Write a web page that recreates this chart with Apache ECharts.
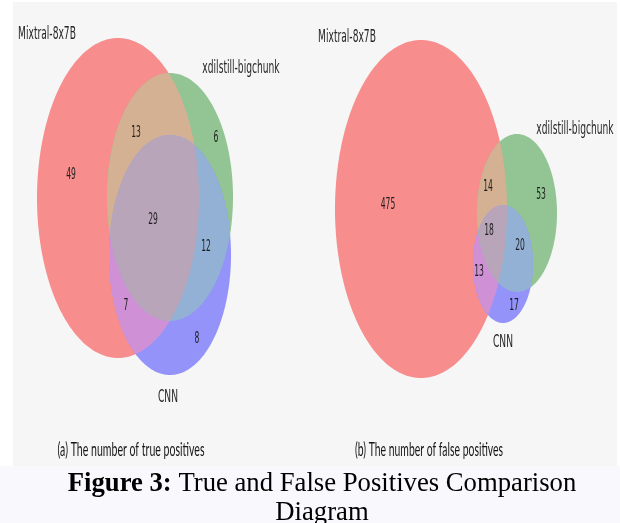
<!DOCTYPE html>
<html><head><meta charset="utf-8">
<script src="https://cdn.jsdelivr.net/npm/echarts@6/dist/echarts.min.js"></script>
<style>html,body{margin:0;padding:0;background:#fff}#c{width:620px;height:523px}</style>
</head><body><div id="c"></div>
<script>
// ---------------- data ----------------
const setNames = ['Mixtral-8x7B', 'xdilstill-bigchunk', 'CNN'];
// regions: A only, B only, C only, A&B, A&C, B&C, A&B&C
const regionKeys = ['100', '010', '001', '110', '101', '011', '111'];
const truePositives = [49, 6, 8, 13, 7, 12, 29];
const falsePositives = [475, 53, 17, 14, 13, 20, 18];
const panelTitles = ['(a) The number of true positives', '(b) The number of false positives'];
const captionBold = 'Figure 3:';
const captionRest = ' True and False Positives Comparison';
const captionLine2 = 'Diagram';

// ---------------- layout (geometry in layout space) ----------------
// ellipses [cx, cy, rx, ry] for sets A, B, C
const geomTP = [[118, 198, 81, 160], [170, 197, 63, 124], [170, 255, 61, 120]];
const geomFP = [[421, 209, 86, 169], [517, 213, 40, 79], [503, 264, 30, 59]];
const countPosTP = [[71, 175], [216, 138], [197, 339], [136, 133], [126, 306], [206, 247], [153, 220]];
const countPosFP = [[388, 205], [541, 195], [514, 306], [488, 187], [479, 272], [520, 246], [489, 231]];
const namePosTP = [[47, 34], [241, 68], [168, 397]];
const namePosFP = [[347, 37], [575, 129], [503, 342]];
const titlePos = [[131, 450], [429, 450]];

// ---------------- styles ----------------
const regionColors = ['#f78d8d', '#93c493', '#9393fa', '#d5b193', '#cf90d6', '#92b1d4', '#b8a5b9'];
const SX = 0.507; // horizontal squeeze of the original figure

function ellipsePts(api, e, n) {
  const pts = [];
  for (let i = 0; i < n; i++) {
    const t = 2 * Math.PI * i / n;
    pts.push(api.coord([e[0] + e[2] * Math.cos(t), e[1] + e[3] * Math.sin(t)]));
  }
  return pts;
}
function signedArea(p) {
  let a = 0;
  for (let i = 0; i < p.length; i++) {
    const q = p[i], r = p[(i + 1) % p.length];
    a += q[0] * r[1] - r[0] * q[1];
  }
  return a / 2;
}
function clipPoly(subject, clip) {
  const sg = signedArea(clip) > 0 ? 1 : -1;
  let out = subject;
  for (let i = 0; i < clip.length; i++) {
    const a = clip[i], b = clip[(i + 1) % clip.length];
    const inside = p => sg * ((b[0] - a[0]) * (p[1] - a[1]) - (b[1] - a[1]) * (p[0] - a[0])) >= 0;
    const inter = (s, p) => {
      const dx1 = p[0] - s[0], dy1 = p[1] - s[1], dx2 = b[0] - a[0], dy2 = b[1] - a[1];
      const den = dx1 * dy2 - dy1 * dx2;
      const t = ((a[0] - s[0]) * dy2 - (a[1] - s[1]) * dx2) / den;
      return [s[0] + t * dx1, s[1] + t * dy1];
    };
    const inp = out; out = [];
    if (!inp.length) break;
    for (let j = 0; j < inp.length; j++) {
      const P = inp[j], S = inp[(j - 1 + inp.length) % inp.length];
      if (inside(P)) { if (!inside(S)) out.push(inter(S, P)); out.push(P); }
      else if (inside(S)) out.push(inter(S, P));
    }
  }
  return out;
}

function shapeSeries(geom) {
  return {
    type: 'custom', coordinateSystem: 'cartesian2d', silent: true, clip: false, z: 2,
    data: regionKeys.map((k, i) => [i, 0]),
    renderItem: function (params, api) {
      const i = api.value(0);
      const sets = regionKeys[i].split('').map((c, j) => c === '1' ? j : -1).filter(j => j >= 0);
      let poly = ellipsePts(api, geom[sets[0]], 240);
      for (let k = 1; k < sets.length; k++) poly = clipPoly(poly, ellipsePts(api, geom[sets[k]], 240));
      return { type: 'polygon', shape: { points: poly }, style: { fill: regionColors[i] } };
    }
  };
}
function countSeries(pos, counts) {
  return {
    type: 'custom', coordinateSystem: 'cartesian2d', silent: true, clip: false, z: 5,
    data: counts.map((v, i) => [pos[i][0], pos[i][1], v]),
    renderItem: function (params, api) {
      const p = api.coord([api.value(0), api.value(1)]);
      return { type: 'text', x: p[0], y: p[1], scaleX: SX,
        style: { text: String(api.value(2)), font: '15px "DejaVu Sans"', fill: '#1e1e1e',
                 align: 'center', verticalAlign: 'middle' } };
    }
  };
}
function nameSeries(pos) {
  return {
    type: 'custom', coordinateSystem: 'cartesian2d', silent: true, clip: false, z: 5,
    data: setNames.map((n, i) => [pos[i][0], pos[i][1], i]),
    renderItem: function (params, api) {
      const p = api.coord([api.value(0), api.value(1)]);
      return { type: 'text', x: p[0], y: p[1], scaleX: SX,
        style: { text: setNames[api.value(2)], font: '18px "DejaVu Sans"', fill: '#262626',
                 align: 'center', verticalAlign: 'middle' } };
    }
  };
}
function fitScale(text, font, target) {
  const c = document.createElement('canvas').getContext('2d');
  c.font = font;
  return target / c.measureText(text).width;
}
const titleFont = '20px Lato';
const titleWidths = [147, 148];

const chart = echarts.init(document.getElementById('c'), null, { renderer: 'canvas' });
chart.setOption({
  backgroundColor: '#f8f8fd',
  animation: false,
  grid: { left: 0, right: 0, top: 0, bottom: 0 },
  xAxis: { type: 'value', min: 0, max: 620, show: false },
  yAxis: { type: 'value', min: 0, max: 523, inverse: true, show: false },
  graphic: [
    { type: 'rect', z: -10, shape: { x: 0, y: 0, width: 620, height: 466 }, style: { fill: '#ffffff' } },
    { type: 'rect', z: -9, shape: { x: 13, y: 2, width: 604, height: 464 }, style: { fill: '#f6f6f6' } },
    ...panelTitles.map((t, i) => ({
      type: 'text', x: titlePos[i][0], y: titlePos[i][1], scaleX: fitScale(t, titleFont, titleWidths[i]),
      style: { text: t, font: titleFont, fill: '#161616', align: 'center', verticalAlign: 'middle' }
    })),
    { type: 'text', x: 322, y: 484,
      style: { text: '{b|' + captionBold + '}{n|' + captionRest + '}', align: 'center', verticalAlign: 'middle',
        rich: { b: { fontFamily: 'Liberation Serif', fontSize: 26.7, fontWeight: 'bold', fill: '#000' },
                n: { fontFamily: 'Liberation Serif', fontSize: 26.7, fill: '#000' } } } },
    { type: 'text', x: 322, y: 513,
      style: { text: captionLine2, font: '26.7px "Liberation Serif"', fill: '#000', align: 'center', verticalAlign: 'middle' } }
  ],
  series: [
    shapeSeries(geomTP), shapeSeries(geomFP),
    countSeries(countPosTP, truePositives), countSeries(countPosFP, falsePositives),
    nameSeries(namePosTP), nameSeries(namePosFP)
  ]
});
</script></body></html>
